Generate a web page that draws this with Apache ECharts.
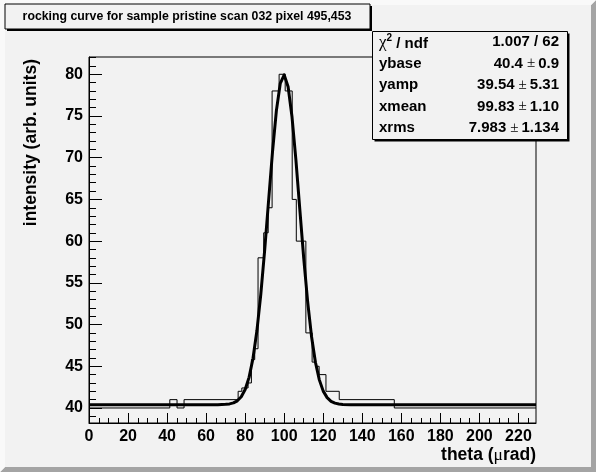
<!DOCTYPE html>
<html>
<head>
<meta charset="utf-8">
<script src="https://cdn.jsdelivr.net/npm/echarts@6/dist/echarts.min.js"></script>
<style>
html,body{margin:0;padding:0;background:#f2f2f2;}
#c{width:596px;height:472px;}
</style>
</head>
<body>
<div id="c"></div>
<script>
// ---- data ----
const titleText = 'rocking curve for sample pristine scan 032 pixel 495,453';
const xTitle = 'theta';
const yTitle = 'intensity (arb. units)';
// histogram bin edges (theta, µrad) and bin contents
const binEdges = [0, 41.4, 45.1, 48.7, 76.4, 78.3, 81.5, 83.2, 84.9, 86.6, 89.5, 91.8, 93.8, 97.4, 100.5, 104.1, 106.2, 111.1, 114.3, 116.2, 117.9, 121.4, 128.2, 156.4, 229];
const binValues = [40, 41, 40, 41, 42, 42.4, 43, 45.8, 47.1, 58, 61, 64, 78, 80, 78, 65, 60, 49, 45.5, 45, 44, 42, 41, 40];
// fitted curve, points
const fitX = [0, 66, 70, 72, 74, 76, 78, 80, 82, 84, 86, 88, 90, 92, 94, 96, 98, 100, 102, 104, 106, 108, 110, 112, 114, 116, 118, 120, 122, 124, 126, 128, 130, 134, 229];
const fitY = [40.4, 40.4, 40.44, 40.49, 40.61, 40.86, 41.34, 42.21, 43.67, 45.93, 49.22, 53.59, 58.93, 64.84, 70.68, 75.64, 78.92, 79.93, 78.5, 74.9, 69.73, 63.82, 57.96, 52.77, 48.58, 45.48, 43.37, 42.02, 41.24, 40.8, 40.58, 40.48, 40.43, 40.4, 40.4];
// axis ticks
const xMajor = [0, 20, 40, 60, 80, 100, 120, 140, 160, 180, 200, 220];
const xMinor = [5, 10, 15, 25, 30, 35, 45, 50, 55, 65, 70, 75, 85, 90, 95, 105, 110, 115, 125, 130, 135, 145, 150, 155, 165, 170, 175, 185, 190, 195, 205, 210, 215, 225];
const yMajor = [40, 45, 50, 55, 60, 65, 70, 75, 80];
const yMinor = [39, 41, 42, 43, 44, 46, 47, 48, 49, 51, 52, 53, 54, 56, 57, 58, 59, 61, 62, 63, 64, 66, 67, 68, 69, 71, 72, 73, 74, 76, 77, 78, 79, 81, 82];
const xRange = [0, 229];
const yRange = [38.2, 82.07];
// fit statistics box
const statNames = ['ybase', 'yamp', 'xmean', 'xrms'];
const statValues = ['40.4', '39.54', '99.83', '7.983'];
const statErrors = ['0.9', '5.31', '1.10', '1.134'];
const chi2Text = '1.007 / 62';

// ---- build ----
const histPts = [];
for (let i = 0; i < binValues.length; i++) {
  histPts.push([binEdges[i], binValues[i]]);
  histPts.push([binEdges[i + 1], binValues[i]]);
}
const fitPts = fitX.map((x, i) => [x, fitY[i]]);

const BG = '#f2f2f2';
const FF = '"Liberation Sans", Arial, Helvetica, sans-serif';
const SERIF = '"Liberation Serif", "DejaVu Serif", serif';

const chart = echarts.init(document.getElementById('c'), null, {renderer: 'canvas'});

const graphics = [];
// canvas bevel (bottom / right)
graphics.push({type: 'polygon', z: 0, silent: true, shape: {points: [[0, 472], [596, 472], [596, 0], [591, 5], [591, 467], [5, 467]]}, style: {fill: '#a4a4a4'}});
graphics.push({type: 'polygon', z: 0, silent: true, shape: {points: [[0, 472], [0, 0], [596, 0], [591, 5], [5, 5], [5, 467]]}, style: {fill: '#f9f9f9'}});
// title box with shadow
graphics.push({type: 'rect', z: 100, silent: true, shape: {x: 7, y: 6, width: 365, height: 25}, style: {fill: '#000'}});
graphics.push({type: 'rect', z: 101, silent: true, shape: {x: 5, y: 4, width: 365, height: 25}, style: {fill: BG, stroke: '#000', lineWidth: 1}});
graphics.push({type: 'text', z: 102, silent: true, style: {text: titleText, x: 187, y: 17, font: 'bold 12.3px ' + FF, fill: '#000', textAlign: 'center', textVerticalAlign: 'middle', align: 'center', verticalAlign: 'middle'}});
// stats box with shadow
graphics.push({type: 'rect', z: 100, silent: true, shape: {x: 374.5, y: 33.5, width: 195, height: 108}, style: {fill: '#000'}});
graphics.push({type: 'rect', z: 101, silent: true, shape: {x: 372.5, y: 31.5, width: 195, height: 108}, style: {fill: BG, stroke: '#000', lineWidth: 1}});
const rowY = [42, 63.5, 85, 106.5, 128];
graphics.push({type: 'text', z: 102, silent: true, style: {
  text: '{g|χ}{s|2}{n| / ndf}', x: 379, y: rowY[0], textAlign: 'left', align: 'left', textVerticalAlign: 'middle', verticalAlign: 'middle',
  rich: {
    g: {font: '17px ' + SERIF, fill: '#000', lineHeight: 18, verticalAlign: 'bottom'},
    s: {font: 'bold 10px ' + FF, fill: '#000', lineHeight: 18, verticalAlign: 'top'},
    n: {font: 'bold 15px ' + FF, fill: '#000', lineHeight: 18, verticalAlign: 'bottom'}
  }}});
graphics.push({type: 'text', z: 102, silent: true, style: {text: chi2Text, x: 559, y: rowY[0], font: 'bold 15px ' + FF, fill: '#000', textAlign: 'right', align: 'right', textVerticalAlign: 'middle', verticalAlign: 'middle'}});
statNames.forEach((nm, i) => {
  graphics.push({type: 'text', z: 102, silent: true, style: {text: nm, x: 379, y: rowY[i + 1], font: 'bold 15px ' + FF, fill: '#000', textAlign: 'left', align: 'left', textVerticalAlign: 'middle', verticalAlign: 'middle'}});
  graphics.push({type: 'text', z: 102, silent: true, style: {
    text: '{b|' + statValues[i] + '}{p|±}{b|' + statErrors[i] + '}', x: 559, y: rowY[i + 1], textAlign: 'right', align: 'right', textVerticalAlign: 'middle', verticalAlign: 'middle',
    rich: {
      b: {font: 'bold 15px ' + FF, fill: '#000', lineHeight: 18},
      p: {font: '15px ' + SERIF, fill: '#000', lineHeight: 18, padding: [0, 3, 0, 4]}
    }}});
});
// axis titles
graphics.push({type: 'text', z: 102, silent: true, rotation: Math.PI / 2, x: 31, y: 59, style: {text: yTitle, x: 0, y: 0, font: 'bold 17.5px ' + FF, fill: '#000', textAlign: 'right', align: 'right', textVerticalAlign: 'middle', verticalAlign: 'middle'}});
graphics.push({type: 'text', z: 102, silent: true, style: {
  text: '{b|' + xTitle + ' (}{m|μ}{b|rad)}', x: 536, y: 455, textAlign: 'right', align: 'right', textVerticalAlign: 'middle', verticalAlign: 'middle',
  rich: {
    b: {font: 'bold 17.5px ' + FF, fill: '#000', lineHeight: 20},
    m: {font: '17.5px ' + SERIF, fill: '#000', lineHeight: 20}
  }}});

const tickLabelStyle = {color: '#000', fontWeight: 'bold', fontSize: 16, fontFamily: FF};

chart.setOption({
  animation: false,
  backgroundColor: BG,
  grid: {left: 89, right: 60, top: 57, bottom: 49, show: true, borderColor: '#000', borderWidth: 1, backgroundColor: BG, containLabel: false},
  xAxis: [
    {type: 'value', min: xRange[0], max: xRange[1], position: 'bottom', splitLine: {show: false},
     axisLine: {show: true, onZero: false, lineStyle: {color: '#000', width: 1}},
     axisTick: {show: true, inside: true, length: 10, customValues: xMajor, lineStyle: {color: '#000', width: 1}},
     axisLabel: Object.assign({show: true, margin: 6, customValues: xMajor}, tickLabelStyle)},
    {type: 'value', min: xRange[0], max: xRange[1], position: 'bottom', splitLine: {show: false},
     axisLine: {show: false, onZero: false},
     axisTick: {show: true, inside: true, length: 5, customValues: xMinor, lineStyle: {color: '#000', width: 1}},
     axisLabel: {show: false}}
  ],
  yAxis: [
    {type: 'value', min: yRange[0], max: yRange[1], position: 'left', splitLine: {show: false},
     axisLine: {show: true, onZero: false, lineStyle: {color: '#000', width: 1}},
     axisTick: {show: true, inside: true, length: 13, customValues: yMajor, lineStyle: {color: '#000', width: 1}},
     axisLabel: Object.assign({show: true, margin: 6, customValues: yMajor}, tickLabelStyle)},
    {type: 'value', min: yRange[0], max: yRange[1], position: 'left', splitLine: {show: false},
     axisLine: {show: false, onZero: false},
     axisTick: {show: true, inside: true, length: 7, customValues: yMinor, lineStyle: {color: '#000', width: 1}},
     axisLabel: {show: false}}
  ],
  series: [
    {type: 'line', name: 'data', xAxisIndex: 0, yAxisIndex: 0, data: histPts, showSymbol: false, symbol: 'none', smooth: false, clip: true,
     lineStyle: {color: '#000', width: 1}, silent: true, z: 2},
    {type: 'line', name: 'fit', xAxisIndex: 0, yAxisIndex: 0, data: fitPts, showSymbol: false, symbol: 'none', smooth: false, clip: true,
     lineStyle: {color: '#000', width: 3, join: 'round'}, silent: true, z: 3}
  ],
  graphic: {elements: graphics}
});
</script>
</body>
</html>
